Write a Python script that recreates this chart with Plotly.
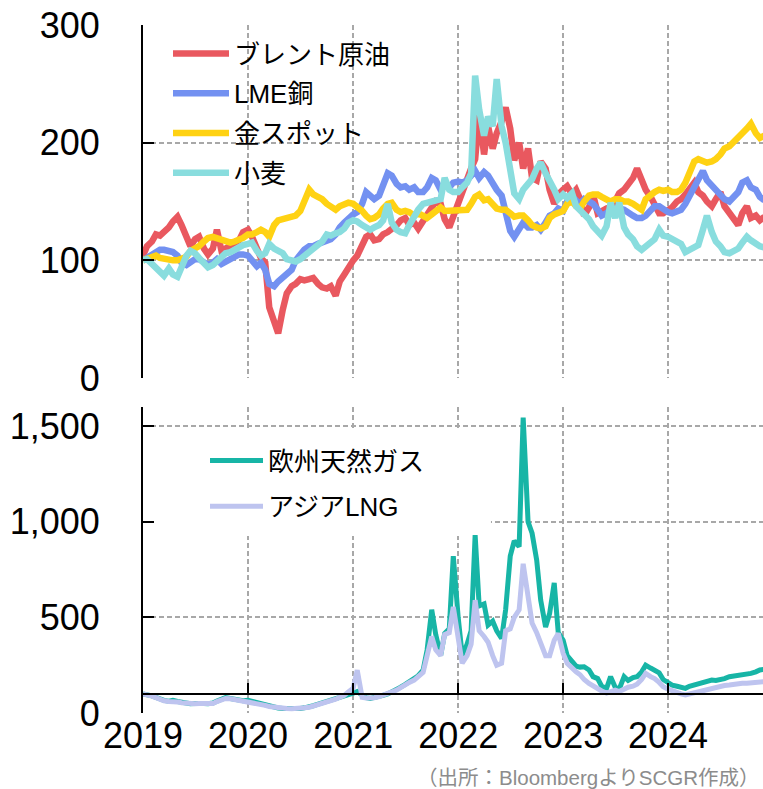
import pandas as pd
import plotly.graph_objects as go

# Semi-monthly observation dates (1st and 15th), Jan 2019 - Dec 2024
dates = pd.date_range("2019-01-01", periods=143, freq="SMS")

# Commodity prices indexed to Jan 2019 = 100
brent = [
    104, 112, 116, 122, 121, 124, 128, 133, 137, 130, 118, 112, 118, 120, 110, 105, 110, 126, 108, 110, 114, 116, 117, 124,
    126, 120, 108, 102, 98, 60, 48, 38, 58, 72, 78, 80, 84, 83, 84, 85, 80, 77, 76, 78, 70, 82, 88, 94,
    100, 104, 112, 120, 122, 117, 118, 122, 124, 126, 130, 134, 136, 130, 132, 127, 134, 140, 144, 150, 148, 135, 128, 138,
    146, 158, 168, 178, 186, 225, 190, 214, 195, 208, 218, 230, 212, 185, 200, 178, 195, 170, 168, 184, 178, 160, 148, 156,
    160, 163, 156, 160, 152, 138, 145, 156, 140, 142, 144, 143, 150, 157, 160, 165, 170, 178, 168, 160, 154, 147, 140, 140,
    142, 145, 150, 152, 156, 160, 166, 158, 155, 150, 146, 152, 158, 146, 140, 135, 130, 140, 146, 136, 138, 134, 137,
]
copper = [
    100, 102, 104, 107, 109, 109, 108, 107, 104, 98, 96, 98, 101, 101, 98, 96, 98, 101, 97, 99, 101, 103, 105, 105,
    104, 100, 95, 98, 92, 80, 78, 82, 86, 89, 92, 100, 106, 109, 112, 112, 114, 115, 116, 118, 122, 128, 132, 136,
    139, 141, 148, 158, 154, 152, 155, 165, 174, 172, 165, 162, 163, 160, 162, 158, 158, 162, 170, 168, 160, 163, 162, 166,
    167, 166, 168, 172, 176, 170, 175, 172, 165, 160, 155, 142, 125, 120, 128, 132, 128, 128, 130, 126, 132, 138, 140, 144,
    142, 150, 154, 150, 148, 152, 150, 148, 143, 138, 140, 143, 142, 144, 143, 140, 138, 136, 136, 138, 142, 146, 146, 143,
    141, 140, 141, 143, 148, 155, 163, 170, 176, 168, 164, 160, 156, 152, 150, 154, 158, 166, 168, 162, 160, 154, 151,
]
gold = [
    100, 101, 103, 104, 102, 101, 101, 100, 100, 101, 103, 108, 110, 112, 116, 119, 120, 119, 118, 116, 115, 116, 117, 119,
    122, 122, 124, 126, 124, 120, 130, 134, 135, 136, 137, 138, 142, 152, 160, 156, 154, 152, 148, 146, 143, 146, 148, 149,
    148, 146, 142, 138, 135, 136, 139, 144, 148, 149, 143, 141, 142, 141, 138, 140, 137, 136, 139, 142, 145, 142, 142, 143,
    143, 142, 143, 148, 154, 156, 151, 152, 148, 144, 143, 143, 140, 137, 138, 138, 134, 130, 128, 127, 129, 136, 139, 141,
    142, 148, 150, 146, 144, 150, 155, 156, 156, 154, 152, 150, 152, 152, 150, 150, 148, 146, 143, 152, 156, 158, 160, 159,
    160, 158, 158, 160, 166, 176, 184, 186, 185, 183, 184, 186, 190, 195, 197, 200, 204, 208, 212, 216, 208, 204, 206,
]
wheat = [
    100, 101, 97, 94, 90, 87, 93, 88, 86, 95, 104, 108, 106, 102, 98, 94, 96, 99, 104, 106, 107, 109, 111, 113,
    114, 115, 108, 104, 106, 114, 110, 108, 106, 101, 100, 99, 101, 104, 107, 110, 113, 116, 122, 121, 123, 124, 127, 132,
    134, 133, 130, 128, 126, 128, 130, 134, 148, 132, 126, 124, 123, 130, 138, 143, 148, 149, 150, 152, 152, 170, 160, 158,
    158, 162, 166, 174, 257, 228, 206, 222, 214, 254, 214, 200, 172, 157, 152, 160, 165, 169, 178, 183, 174, 168, 160, 152,
    156, 153, 157, 146, 143, 140, 135, 129, 124, 121, 129, 149, 136, 149, 128, 122, 118, 112, 109, 112, 115, 118, 126, 121,
    120, 118, 116, 114, 107, 109, 111, 113, 126, 138, 124, 116, 112, 107, 106, 108, 110, 115, 120, 117, 114, 112, 111,
]
eu_gas = [
    100, 98, 90, 82, 72, 66, 62, 66, 60, 56, 52, 48, 50, 52, 50, 48, 52, 62, 72, 80, 76, 72, 68, 64,
    66, 60, 52, 46, 40, 34, 30, 26, 24, 23, 22, 22, 24, 27, 30, 38, 46, 52, 60, 66, 74, 80, 86, 95,
    104, 112, 92, 80, 76, 80, 86, 92, 100, 110, 120, 135, 150, 165, 178, 195, 224, 330, 540, 410, 300, 416, 440, 820,
    500, 300, 360, 430, 930, 560, 570, 460, 480, 430, 390, 540, 820, 900, 870, 1545, 1000, 940, 800, 590, 450, 520, 680, 420,
    380, 300, 270, 245, 240, 242, 225, 190, 180, 140, 129, 190, 135, 125, 190, 170, 185, 190, 215, 250, 235, 225, 210, 175,
    160, 146, 140, 132, 129, 140, 146, 150, 160, 166, 172, 170, 172, 180, 190, 192, 196, 199, 205, 207, 215, 225, 228,
]
asia_lng = [
    100, 96, 88, 80, 70, 64, 60, 62, 58, 54, 50, 48, 48, 50, 48, 46, 50, 60, 70, 76, 74, 70, 66, 62,
    62, 58, 50, 44, 40, 34, 30, 26, 24, 23, 22, 22, 24, 27, 30, 36, 44, 50, 56, 62, 72, 82, 92, 110,
    130, 224, 82, 78, 76, 80, 86, 92, 100, 110, 120, 134, 148, 160, 172, 188, 212, 300, 400, 330, 300, 410, 420, 555,
    400, 260, 300, 360, 590, 430, 400, 370, 300, 250, 260, 430, 440, 500, 540, 780, 610, 470, 420, 364, 300, 300, 380, 416,
    312, 260, 230, 215, 200, 175, 155, 140, 129, 115, 104, 112, 120, 112, 125, 135, 140, 150, 175, 207, 190, 180, 160, 138,
    125, 115, 108, 100, 95, 100, 108, 112, 120, 128, 132, 135, 140, 144, 146, 150, 152, 155, 155, 158, 160, 162, 164,
]

top_series = [
    ("ブレント原油", brent, "#E9585F"),
    ("LME銅", copper, "#7391F1"),
    ("金スポット", gold, "#FFD213"),
    ("小麦", wheat, "#89DDDE"),
]
gas_series = [
    ("欧州天然ガス", eu_gas, "#17B5A6"),
    ("アジアLNG", asia_lng, "#BEC4EF"),
]

year_ticks = ["2019-01-01", "2020-01-01", "2021-01-01", "2022-01-01", "2023-01-01", "2024-01-01"]
year_labels = ["2019", "2020", "2021", "2022", "2023", "2024"]
top_ticks = [0, 100, 200, 300]
gas_ticks = [0, 500, 1000, 1500]

# ---- geometry (pixels) ----
W, H = 763, 789
LEFT = 143
TOP_PANEL = (25, 378)
GAS_PANEL = (407, 713)
X_RANGE = ["2019-01-01", "2024-11-26"]
TOP_RANGE = [0, 300]
GAS_RANGE = [0, 1600]
GAS_BASELINE = 100


def domain(px):
    return [1 - px[1] / H, 1 - px[0] / H]


top_dom = domain(TOP_PANEL)
gas_dom = domain(GAS_PANEL)
baseline_pos = gas_dom[0] + (GAS_BASELINE - GAS_RANGE[0]) / (GAS_RANGE[1] - GAS_RANGE[0]) * (gas_dom[1] - gas_dom[0])

FONT = "Arial, 'Liberation Sans', 'Noto Sans CJK JP', sans-serif"
GRID = "#A8A8A8"
GRID_DASH = "5px,3px"

fig = go.Figure()
for i, (name, vals, color) in enumerate(top_series):
    fig.add_trace(go.Scatter(
        x=dates, y=vals, name=name, mode="lines",
        line=dict(color=color, width=6.5), xaxis="x", yaxis="y",
        legend="legend", legendgroup=f"top{i}", hoverinfo="skip",
    ))
for i, (name, vals, color) in enumerate(gas_series):
    fig.add_trace(go.Scatter(
        x=dates, y=vals, name=name, mode="lines",
        line=dict(color=color, width=5), xaxis="x2", yaxis="y2",
        legend="legend2", legendgroup=f"gas{i}", hoverinfo="skip",
    ))

grid_common = dict(showgrid=True, gridcolor=GRID, gridwidth=1.5, griddash=GRID_DASH,
                   zeroline=False, automargin=False)
yax_common = dict(
    showline=True, linecolor="black", linewidth=2,
    ticks="inside", ticklen=11, tickwidth=2, tickcolor="black",
    ticklabelstandoff=34, tickfont=dict(size=36, color="black"),
    fixedrange=True, **grid_common,
)

fig.update_layout(
    width=W, height=H,
    margin=dict(l=LEFT, r=0, t=0, b=0, pad=0, autoexpand=False),
    paper_bgcolor="white", plot_bgcolor="white",
    font=dict(family=FONT, size=36, color="black"),
    showlegend=True,
    xaxis=dict(domain=[0, 1], anchor="y", range=X_RANGE, tickvals=year_ticks,
               showticklabels=False, ticks="", showline=False, **grid_common),
    yaxis=dict(domain=top_dom, anchor="x", range=TOP_RANGE, tickvals=top_ticks, **yax_common),
    xaxis2=dict(domain=[0, 1], anchor="free", position=baseline_pos, range=X_RANGE,
                tickvals=year_ticks, ticktext=year_labels,
                showline=True, linecolor="black", linewidth=2,
                ticks="inside", ticklen=10, tickwidth=2, tickcolor="black",
                ticklabelstandoff=10, tickfont=dict(size=36, color="black"),
                **grid_common),
    yaxis2=dict(domain=gas_dom, anchor="x2", range=GAS_RANGE, tickvals=gas_ticks,
                tickformat=",", **yax_common),
    legend=dict(x=(168 - LEFT) / (W - LEFT), y=1 - 30 / H, xanchor="left", yanchor="top",
                bgcolor="rgba(0,0,0,0)", font=dict(size=26, color="black"),
                itemwidth=56, tracegroupgap=3),
    legend2=dict(x=(205 - LEFT) / (W - LEFT), y=1 - 437 / H, xanchor="left", yanchor="top",
                 bgcolor="rgba(0,0,0,0)", font=dict(size=26, color="black"),
                 itemwidth=53, tracegroupgap=9),
    shapes=[dict(type="rect", xref="x2", yref="y2", x0="2019-01-01", x1="2022-04-25",
                 y0=925, y1=1488, fillcolor="white", line=dict(width=0), layer="between")],
    annotations=[dict(text="（出所：BloombergよりSCGR作成）", xref="paper", yref="paper",
                      x=1, y=1 - 777 / H, xanchor="right", yanchor="middle", xshift=-2,
                      showarrow=False, font=dict(size=20.5, color="#8C8C8C"))],
)

fig.write_html("out.html")
